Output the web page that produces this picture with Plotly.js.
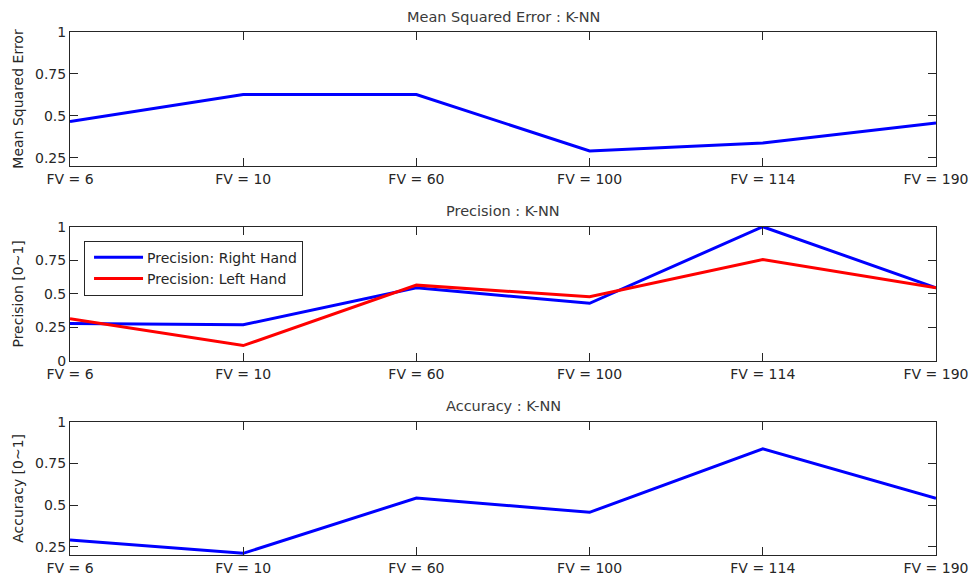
<!DOCTYPE html>
<html>
<head>
<meta charset="utf-8">
<script src="https://cdn.plot.ly/plotly-3.0.1.min.js"></script>
<style>
  html, body { margin: 0; padding: 0; background: #fff; }
  #chart { width: 969px; height: 579px; }
</style>
</head>
<body>
<div id="chart"></div>
<script>
// Feature-vector sizes evaluated with K-NN
const categories = ['FV = 6', 'FV = 10', 'FV = 60', 'FV = 100', 'FV = 114', 'FV = 190'];

// Mean squared error per feature-vector size
const mseKnn = [0.465, 0.627, 0.627, 0.29, 0.338, 0.457];

// Precision for each hand
const precisionRight = [0.28, 0.27, 0.545, 0.43, 1.0, 0.545];
const precisionLeft = [0.315, 0.115, 0.565, 0.478, 0.755, 0.545];

// Overall accuracy
const accuracyKnn = [0.29, 0.21, 0.542, 0.456, 0.837, 0.54];

const seriesNames = ['Precision: Right Hand', 'Precision: Left Hand'];
const titles = ['Mean Squared Error : K-NN', 'Precision : K-NN', 'Accuracy : K-NN'];
const yTitles = ['Mean Squared Error', 'Precision [0~1]', 'Accuracy [0~1]'];

const FONT = 'DejaVu Sans, Liberation Sans, Arial, sans-serif';
const FS = 14;
const BLUE = '#0000ff';
const RED = '#ff0000';
const INK = '#262626';

const traces = [
  { x: categories, y: mseKnn, xaxis: 'x', yaxis: 'y', mode: 'lines',
    line: { color: BLUE, width: 3 }, showlegend: false, hoverinfo: 'x+y' },
  { x: categories, y: precisionRight, xaxis: 'x2', yaxis: 'y2', mode: 'lines',
    name: seriesNames[0], line: { color: BLUE, width: 3 } },
  { x: categories, y: precisionLeft, xaxis: 'x2', yaxis: 'y2', mode: 'lines',
    name: seriesNames[1], line: { color: RED, width: 3 } },
  { x: categories, y: accuracyKnn, xaxis: 'x3', yaxis: 'y3', mode: 'lines',
    line: { color: BLUE, width: 3 }, showlegend: false, hoverinfo: 'x+y' }
];

function xAxis(anchor) {
  return {
    type: 'category', categoryorder: 'array', categoryarray: categories,
    range: [0, categories.length - 1], anchor: anchor, domain: [0, 1],
    showline: true, mirror: 'ticks', linecolor: INK, linewidth: 1,
    ticks: 'inside', ticklen: 8, tickcolor: INK, tickwidth: 1,
    showgrid: false, zeroline: false,
    tickfont: { family: FONT, size: FS, color: INK }
  };
}

function yAxis(anchor, domain, range, tickvals, title) {
  return {
    anchor: anchor, domain: domain, range: range,
    tickmode: 'array', tickvals: tickvals,
    showline: true, mirror: 'ticks', linecolor: INK, linewidth: 1,
    ticks: 'inside', ticklen: 8, tickcolor: INK, tickwidth: 1,
    showgrid: false, zeroline: false,
    tickfont: { family: FONT, size: FS, color: INK },
    title: { text: title, standoff: 8, font: { family: FONT, size: FS, color: INK } }
  };
}

const topDomain = [0.7438, 1];
const midDomain = [0.3709, 0.6277];
const botDomain = [0, 0.2549];

const layout = {
  width: 969, height: 579,
  margin: { l: 70, r: 33, t: 32, b: 24, autoexpand: false },
  paper_bgcolor: '#ffffff', plot_bgcolor: '#ffffff',
  font: { family: FONT, size: FS, color: INK },
  xaxis: xAxis('y'),
  xaxis2: xAxis('y2'),
  xaxis3: xAxis('y3'),
  yaxis: yAxis('x', topDomain, [0.2, 1], [0.25, 0.5, 0.75, 1], yTitles[0]),
  yaxis2: yAxis('x2', midDomain, [0, 1], [0, 0.25, 0.5, 0.75, 1], yTitles[1]),
  yaxis3: yAxis('x3', botDomain, [0.2, 1], [0.25, 0.5, 0.75, 1], yTitles[2]),
  showlegend: true,
  legend: {
    x: 0.0162, y: 0.601, xanchor: 'left', yanchor: 'top',
    bgcolor: '#ffffff', bordercolor: INK, borderwidth: 1,
    font: { family: FONT, size: FS, color: INK },
    itemwidth: 52, tracegroupgap: 0
  },
  annotations: [
    [titles[0], topDomain[1]],
    [titles[1], midDomain[1]],
    [titles[2], botDomain[1]]
  ].map(function (t) {
    return {
      text: t[0], xref: 'paper', yref: 'paper', x: 0.5, y: t[1],
      xanchor: 'center', yanchor: 'middle', yshift: 15.5, showarrow: false,
      font: { family: FONT, size: 14.5, color: '#3a3a3a' }
    };
  })
};

Plotly.newPlot('chart', traces, layout, { staticPlot: true, displayModeBar: false })
  .then(function (gd) {
    // longer sample strokes in the legend
    gd.querySelectorAll('.legendlines path').forEach(function (p) {
      p.setAttribute('d', 'M9,0h49');
    });
  });
</script>
</body>
</html>
